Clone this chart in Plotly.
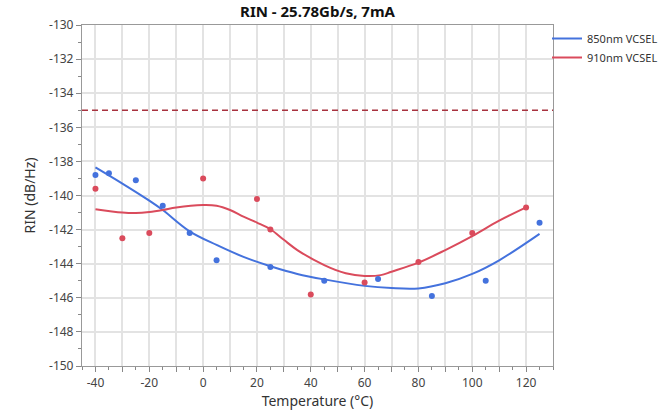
import plotly.graph_objects as go

# Measured points
blue_t = [-40, -35, -25, -15, -5, 5, 25, 45, 65, 85, 105, 125]
blue_rin = [-138.8, -138.7, -139.1, -140.6, -142.2, -143.8, -144.2, -145.0, -144.9, -145.9, -145.0, -141.6]
red_t = [-40, -30, -20, 0, 20, 25, 40, 60, 80, 100, 120]
red_rin = [-139.6, -142.5, -142.2, -139.0, -140.2, -142.0, -145.8, -145.1, -143.9, -142.2, -140.7]

# Smoother curves
blue_fit_t = [-40, -30, -20, -15, -5, 5, 15, 25, 35, 45, 60, 70, 80, 90, 100, 110, 125]
blue_fit_rin = [-138.35, -139.3, -140.3, -140.85, -142.1, -142.9, -143.6, -144.15, -144.6, -144.92, -145.3, -145.43, -145.45, -145.15, -144.6, -143.8, -142.25]
red_fit_t = [-40, -30, -25, -20, -15, -10, 0, 5, 10, 15, 20, 25, 30, 35, 45, 53, 60, 66, 70, 80, 90, 100, 110, 120]
red_fit_rin = [-140.8, -141.0, -141.03, -140.97, -140.85, -140.7, -140.56, -140.6, -140.85, -141.24, -141.59, -141.98, -142.6, -143.2, -144.08, -144.56, -144.72, -144.67, -144.47, -143.94, -143.2, -142.38, -141.48, -140.7]

limit_rin = -135

x_tickvals = list(range(-40, 121, 10))
x_ticktext = [str(v) if v % 20 == 0 else "" for v in x_tickvals]
y_tickvals = list(range(-150, -129, 2))
y_ticktext = [str(v) for v in y_tickvals]

BLUE = "#4472DD"
RED = "#DA4B5C"
FONT = "Noto Sans"

fig = go.Figure()
fig.add_trace(go.Scatter(x=blue_fit_t, y=blue_fit_rin, mode="lines", line=dict(color=BLUE, width=2, shape="spline"),
                         name="850nm VCSEL", legendgroup="b"))
fig.add_trace(go.Scatter(x=red_fit_t, y=red_fit_rin, mode="lines", line=dict(color=RED, width=2, shape="spline"),
                         name="910nm VCSEL", legendgroup="r"))
fig.add_trace(go.Scatter(x=blue_t, y=blue_rin, mode="markers", marker=dict(color=BLUE, size=6),
                         showlegend=False, legendgroup="b"))
fig.add_trace(go.Scatter(x=red_t, y=red_rin, mode="markers", marker=dict(color=RED, size=6),
                         showlegend=False, legendgroup="r"))

fig.add_shape(type="line", xref="paper", x0=0, x1=1, yref="y", y0=limit_rin, y1=limit_rin,
              line=dict(color="#A8323F", width=1.3, dash="6px,4px"))

fig.update_layout(
    width=663, height=411,
    margin=dict(l=82, r=110, t=25, b=45, autoexpand=False),
    paper_bgcolor="white", plot_bgcolor="white",
    font=dict(family=FONT, color="#444444"),
    title=dict(text="<b>RIN - 25.78Gb/s, 7mA</b>", x=(82 + 553) / 2 / 663, xanchor="center",
               y=1 - 12 / 411, yanchor="middle", font=dict(size=15, color="#111111")),
    legend=dict(x=547 / 663, xanchor="left", y=1 - 24 / 411, yanchor="top",
                xref="container", yref="container",
                font=dict(size=11, color="#333333"),
                tracegroupgap=0, itemwidth=30, bgcolor="rgba(0,0,0,0)"),
    showlegend=True,
)
fig.update_xaxes(
    range=[-45, 130], tickvals=x_tickvals, ticktext=x_ticktext,
    showgrid=True, gridcolor="#E3E3E3", gridwidth=1.5,
    ticks="outside", ticklen=5, tickcolor="#888888",
    minor=dict(dtick=5, tick0=0, ticks="outside", ticklen=3, tickcolor="#888888", showgrid=False),
    showline=True, linecolor="#999999", linewidth=1.2, mirror=True,
    zeroline=False, tickfont=dict(size=12), automargin=False,
    title=dict(text="Temperature (°C)", font=dict(size=14, color="#333333"), standoff=6),
)
fig.update_yaxes(
    range=[-150, -130], tickvals=y_tickvals, ticktext=y_ticktext,
    showgrid=True, gridcolor="#E3E3E3", gridwidth=1.5,
    ticks="outside", ticklen=5, tickcolor="#888888",
    minor=dict(dtick=1, tick0=-150, ticks="outside", ticklen=3, tickcolor="#888888", showgrid=False),
    showline=True, linecolor="#999999", linewidth=1.2, mirror=True,
    zeroline=False, tickfont=dict(size=12), automargin=False,
    title=dict(text="RIN (dB/Hz)", font=dict(size=14, color="#333333"), standoff=10),
)

fig.write_html("out.html")
